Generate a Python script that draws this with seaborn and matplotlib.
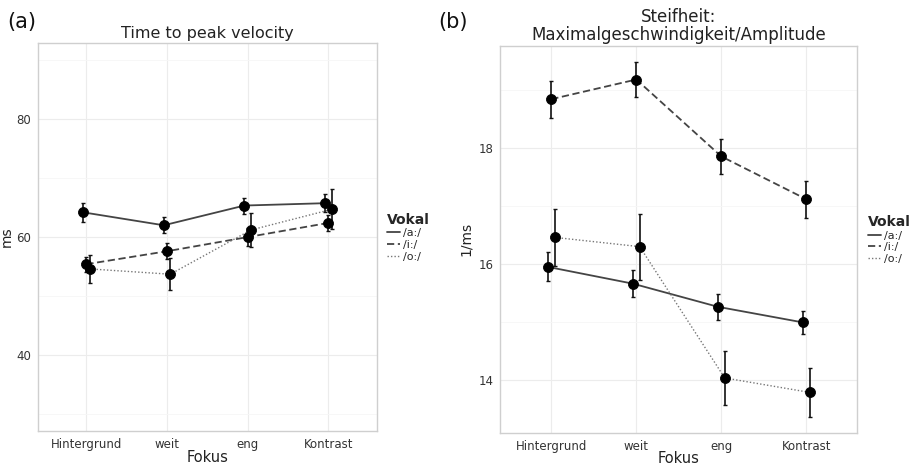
import numpy as np
import pandas as pd
import seaborn as sns
import matplotlib.pyplot as plt
from matplotlib.lines import Line2D
from matplotlib.ticker import MultipleLocator

fokus = ['Hintergrund', 'weit', 'eng', 'Kontrast']
vokale = ['/a:/', '/i:/', '/o:/']

# (a) time to peak velocity, ms
tpv_a = [64.2, 62.0, 65.35, 65.75]
tpv_i = [55.4, 57.6, 60.0, 62.4]
tpv_o = [54.6, 53.7, 61.2, 64.7]
tpv_err_a = [1.6, 1.35, 1.35, 1.5]
tpv_err_i = [1.3, 1.4, 1.5, 1.4]
tpv_err_o = [2.4, 2.7, 2.9, 3.4]

# (b) stiffness, 1/ms
stf_a = [15.95, 15.66, 15.26, 14.99]
stf_i = [18.85, 19.19, 17.86, 17.12]
stf_o = [16.46, 16.30, 14.03, 13.78]
stf_err_a = [0.25, 0.23, 0.23, 0.20]
stf_err_i = [0.32, 0.30, 0.30, 0.32]
stf_err_o = [0.49, 0.57, 0.46, 0.43]

line_col = '#444444'
dash_map = {'/a:/': '', '/i:/': (4, 2), '/o:/': (1, 1.5)}
lw_map = {'/a:/': 1.3, '/i:/': 1.3, '/o:/': 1.0}
col_map = {'/a:/': '#444444', '/i:/': '#444444', '/o:/': '#777777'}
dodge = {'/a:/': -0.04, '/i:/': 0.0, '/o:/': 0.04}


def make_df(vals, errs):
    rows = []
    for v, means, ee in zip(vokale, vals, errs):
        for k, (m, e) in enumerate(zip(means, ee)):
            rows.append({'Fokus': fokus[k], 'Vokal': v, 'x': k + dodge[v], 'y': m, 'err': e})
    return pd.DataFrame(rows)


def style_axes(ax):
    ax.set_facecolor('white')
    for s in ax.spines.values():
        s.set_color('#cfcfcf')
        s.set_linewidth(1.0)
    ax.grid(True, which='major', color='#ececec', lw=0.8)
    ax.grid(True, which='minor', color='#f6f6f6', lw=0.6)
    ax.set_axisbelow(True)
    ax.tick_params(which='major', length=3, color='#444444', labelsize=8.5, labelcolor='#333333', pad=2)
    ax.tick_params(which='minor', length=0)


def panel(ax, df, ylim, major, title, tsize):
    for v in vokale:
        sub = df[df.Vokal == v]
        sns.lineplot(data=sub, x='x', y='y', ax=ax, color=col_map[v], lw=lw_map[v],
                     dashes=False, legend=False, sort=False,
                     linestyle='-' if v == '/a:/' else (0, dash_map[v]))
        ax.errorbar(sub.x, sub.y, yerr=sub.err, fmt='none', ecolor='#111111',
                    elinewidth=1.2, capsize=1.5, capthick=1.0, zorder=3)
    sns.scatterplot(data=df, x='x', y='y', ax=ax, color='black', s=52,
                    edgecolor='black', legend=False, zorder=4)
    ax.set_xlim(-0.6, 3.6)
    ax.set_ylim(*ylim)
    ax.set_xticks(range(len(fokus)))
    ax.set_xticklabels(fokus)
    ax.yaxis.set_major_locator(MultipleLocator(major))
    ax.yaxis.set_minor_locator(MultipleLocator(major / 2))
    ax.xaxis.set_minor_locator(MultipleLocator(1))
    ax.set_xlabel('Fokus', fontsize=10.5, color='#222222', labelpad=-1)
    ax.set_title(title, fontsize=tsize, color='#222222', pad=4, linespacing=1.05)
    style_axes(ax)
    ax.grid(False, which='minor', axis='x')

    handles = []
    for v in vokale:
        ls = '-' if v == '/a:/' else (0, dash_map[v])
        handles.append(Line2D([0], [0], color=col_map[v], lw=lw_map[v], linestyle=ls))
    leg = ax.legend(handles, vokale, title='Vokal', loc='center left',
                    bbox_to_anchor=(1.01, 0.5), frameon=False, fontsize=8,
                    handlelength=1.2, handletextpad=0.3, labelspacing=0.15,
                    borderaxespad=0.2)
    leg.get_title().set_fontweight('bold')
    leg.get_title().set_fontsize(10)
    leg._legend_box.align = 'left'


sns.set_theme(style='white')
plt.rcParams['font.family'] = ['DejaVu Sans']

fig = plt.figure(figsize=(9.13, 4.69), dpi=100)
ax1 = fig.add_axes([0.0416, 0.081, 0.371, 0.827])
ax2 = fig.add_axes([0.548, 0.077, 0.391, 0.825])

df_a = make_df([tpv_a, tpv_i, tpv_o], [tpv_err_a, tpv_err_i, tpv_err_o])
df_b = make_df([stf_a, stf_i, stf_o], [stf_err_a, stf_err_i, stf_err_o])

panel(ax1, df_a, (27.1, 92.9), 20, 'Time to peak velocity', 11.5)
ax1.set_ylabel('ms', fontsize=10, color='#222222', labelpad=2)
panel(ax2, df_b, (13.08, 19.77), 2, 'Steifheit:\nMaximalgeschwindigkeit/Amplitude', 12)
ax2.set_ylabel('1/ms', fontsize=10, color='#222222', labelpad=4)

fig.text(0.008, 0.94, '(a)', fontsize=15, color='#111111')
fig.text(0.480, 0.94, '(b)', fontsize=15, color='#111111')

fig.savefig('out.png', dpi=100, facecolor='white')
